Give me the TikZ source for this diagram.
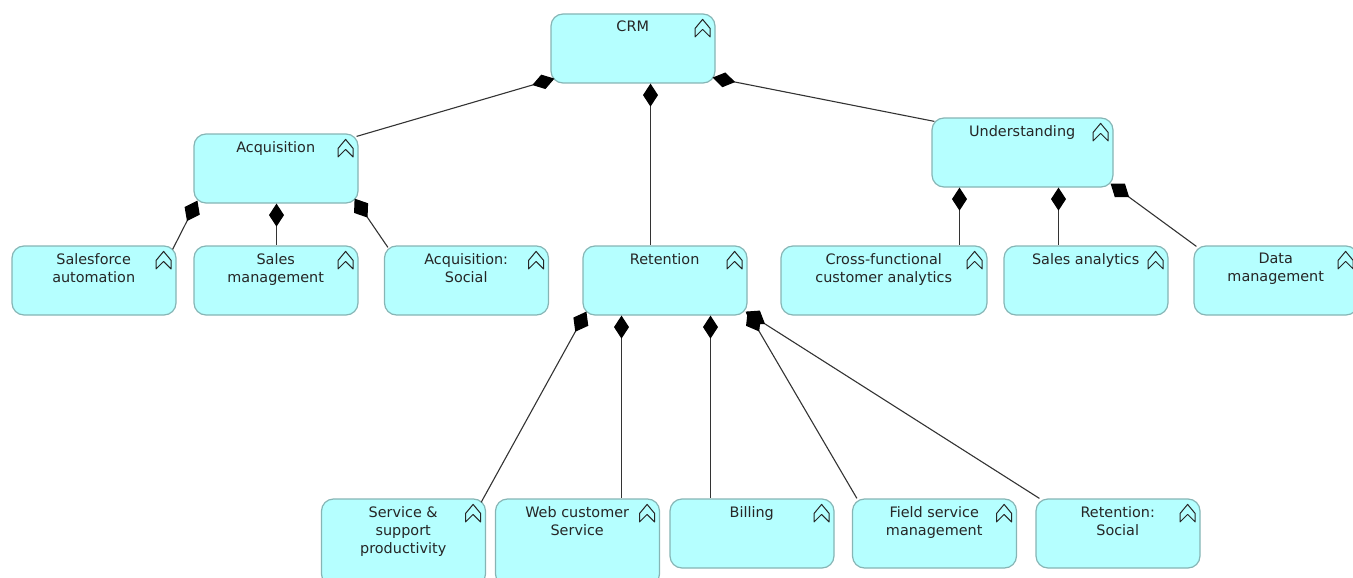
\documentclass[tikz,border=0pt]{standalone}
\usepackage{fontspec}
\setmainfont{DejaVu Sans}
\usetikzlibrary{arrows.meta}
\definecolor{fnfill}{HTML}{B5FFFF}
\definecolor{fnline}{HTML}{86B5B5}
\newcommand{\fntxt}[2][69pt]{\parbox[c][#1][t]{150pt}{\centering\rightskip=0.6pt plus 1fil\vspace{7.2pt}\fontsize{14.4pt}{18pt}\selectfont #2\par}}
\tikzset{
fn/.style={draw=fnline,fill=fnfill,rounded corners=12pt,inner sep=0pt,minimum width=164pt,minimum height=69pt,line width=1.2pt,text=black!85},
comp/.style={{Diamond[length=23pt,width=15pt,black]}-,line width=1.1pt,black!80},
compfat/.style={{Diamond[length=23pt,width=17pt,black]}-,line width=1.1pt,black!80},
chev/.style={line width=1pt,black!85,line join=round}
}
\begin{document}
\begin{tikzpicture}[x=1pt,y=-1pt]
\useasboundingbox (0,0) rectangle (1353,578);
\clip (0,0) rectangle (1353,578);
% boxes
\node [fn] (crm) at (633,48.5) {\fntxt{CRM}};
\node [fn] (acq) at (276,168.5) {\fntxt{Acquisition}};
\node [fn,minimum width=181pt] (und) at (1022.5,152.5) {\fntxt{Understanding}};
\node [fn] (sfa) at (94,280.5) {\fntxt{Salesforce\\automation}};
\node [fn] (smg) at (276,280.5) {\fntxt{Sales\\management}};
\node [fn] (aso) at (466.5,280.5) {\fntxt{Acquisition:\\Social}};
\node [fn] (ret) at (665,280.5) {\fntxt{Retention}};
\node [fn,minimum width=206pt] (cfa) at (884,280.5) {\fntxt{Cross-functional\\customer analytics}};
\node [fn] (san) at (1086,280.5) {\fntxt{Sales analytics}};
\node [fn] (dat) at (1276,280.5) {\fntxt{Data\\management}};
\node [fn] (svc) at (403.5,542.5) {\fntxt[87pt]{Service \&\\support\\productivity}};
\node [fn] (web) at (577.5,542.5) {\fntxt[87pt]{Web customer\\Service}};
\node [fn] (bil) at (752,533.5) {\fntxt{Billing}};
\node [fn] (fld) at (934.5,533.5) {\fntxt{Field service\\management}};
\node [fn] (rso) at (1118,533.5) {\fntxt{Retention:\\Social}};
% chevrons
\foreach \n in {crm,acq,und,sfa,smg,aso,ret,cfa,san,dat,svc,web,bil,fld,rso}
\draw [chev,shift={(\n.north east)}] (-20.5,23.5) -- (-20.5,15) -- (-13,6) -- (-5.5,15) -- (-5.5,23.5) -- (-13,16) -- cycle ;
% composition
\draw [comp] ([shift={(4,-5)}]crm.south west) -- ([shift={(-2,3)}]acq.north east);
\draw [comp] ([xshift=17.5]crm.south) -- ([xshift=-14.5]ret.north);
\draw [comp] ([shift={(-3,-6)}]crm.south east) -- ([shift={(3,4)}]und.north west);
\draw [compfat] ([shift={(4,-3)}]acq.south west) -- ([shift={(-4,4)}]sfa.north east);
\draw [comp] ([xshift=0.5]acq.south) -- ([xshift=0.5]smg.north);
\draw [compfat] ([shift={(-4,-5)}]acq.south east) -- ([shift={(4,2)}]aso.north west);
\draw [compfat] ([shift={(4,-4)}]ret.south west) -- ([shift={(-5,4)}]svc.north east);
\draw [comp] ([xshift=-43.5]ret.south) -- ([xshift=44]web.north);
\draw [comp] ([xshift=45.5]ret.south) -- ([xshift=-41.5]bil.north);
\draw [compfat] ([shift={(0,-4)}]ret.south east) -- ([shift={(5,0)}]fld.north west);
\draw [compfat] ([shift={(-2,-4)}]ret.south east) -- ([shift={(4,0)}]rso.north west);
\draw [comp] ([xshift=-63]und.south) -- ([xshift=75.5]cfa.north);
\draw [comp] ([xshift=36]und.south) -- ([xshift=-27.5]san.north);
\draw [compfat] ([shift={(-3,-4)}]und.south east) -- ([shift={(3,1)}]dat.north west);
\end{tikzpicture}
\end{document}
